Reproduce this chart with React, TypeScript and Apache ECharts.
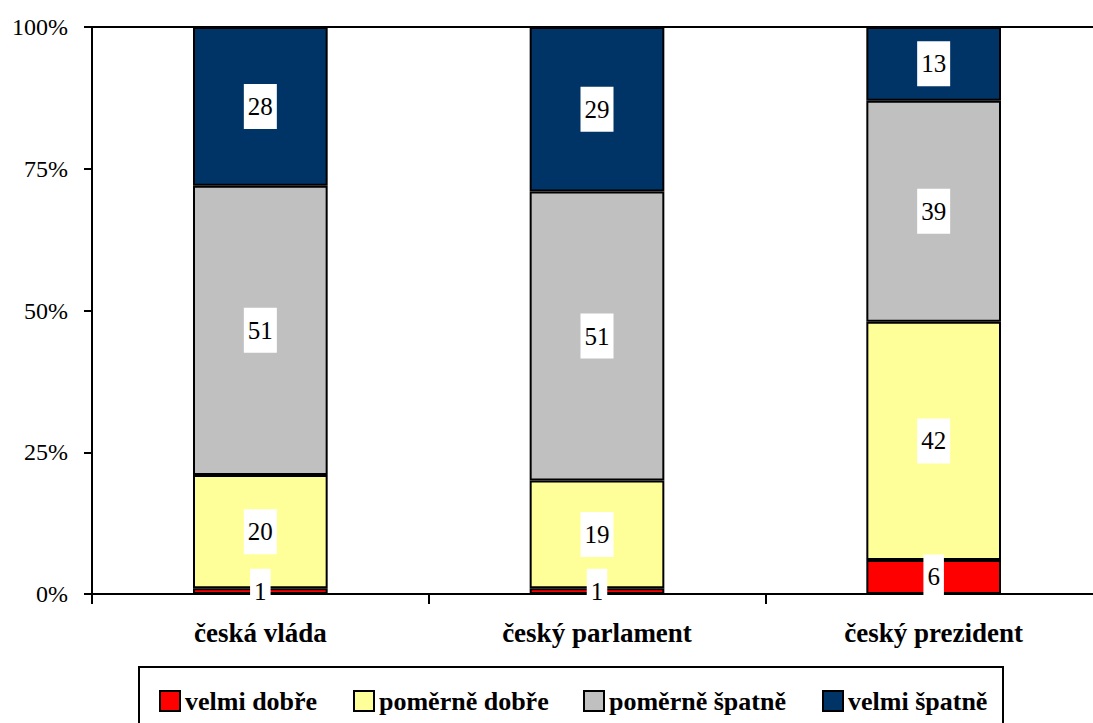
import React, { useEffect, useRef } from "react";
import * as echarts from "echarts";

const categories = ["česká vláda", "český parlament", "český prezident"];
const seriesNames = ["velmi dobře", "poměrně dobře", "poměrně špatně", "velmi špatně"];
const velmiDobre = [1, 1, 6];
const pomerneDobre = [20, 19, 42];
const pomerneSpatne = [51, 51, 39];
const velmiSpatne = [28, 29, 13];
const colors = ["#FF0000", "#FFFF99", "#C0C0C0", "#003366"];
const legendLefts = [159, 353, 583, 822];

const FONT = "Liberation Serif, Times New Roman, serif";

export default function App() {
  const ref = useRef<HTMLDivElement>(null);
  useEffect(() => {
    if (!ref.current) return;
    const chart = echarts.init(ref.current, null, { renderer: "svg" });
    const values = [velmiDobre, pomerneDobre, pomerneSpatne, velmiSpatne];
    const series = seriesNames.map((name, i) => ({
      name,
      type: "bar",
      stack: "total",
      barWidth: "40%",
      data: values[i],
      itemStyle: { color: colors[i], borderColor: "#000", borderWidth: 2 },
      label: {
        show: true,
        position: "inside",
        color: "#000",
        fontFamily: FONT,
        fontSize: 25,
        lineHeight: 25,
        backgroundColor: "#fff",
        padding: [10, 4],
      },
    }));
    chart.setOption({
      animation: false,
      textStyle: { fontFamily: FONT },
      grid: { left: 92, top: 27, width: 1010, height: 567, outerBoundsMode: "none", containLabel: false },
      xAxis: [
        {
          type: "category",
          data: categories,
          position: "bottom",
          axisLine: { show: true, lineStyle: { color: "#000", width: 2 } },
          axisTick: { show: true, length: 10, lineStyle: { color: "#000", width: 2 } },
          axisLabel: {
            color: "#000",
            fontFamily: FONT,
            fontWeight: "bold",
            fontSize: 27,
            margin: 25,
          },
        },
        {
          type: "category",
          data: categories,
          position: "top",
          axisLine: { show: true, lineStyle: { color: "#000", width: 2 } },
          axisTick: { show: false },
          axisLabel: { show: false },
        },
      ],
      yAxis: {
        type: "value",
        min: 0,
        max: 100,
        interval: 25,
        axisLine: { show: true, lineStyle: { color: "#000", width: 2 } },
        axisTick: { show: true, length: 8, lineStyle: { color: "#000", width: 2 } },
        splitLine: { show: false },
        axisLabel: {
          color: "#000",
          fontFamily: FONT,
          fontSize: 24,
          margin: 24,
          formatter: "{value}%",
        },
      },
      legend: seriesNames.map((n, i) => ({
        data: [n],
        left: legendLefts[i],
        top: 688,
        padding: 0,
        itemWidth: 20,
        itemHeight: 20,
        itemGap: 0,
        icon: "rect",
        itemStyle: { borderColor: "#000", borderWidth: 2 },
        textStyle: {
          color: "#000",
          fontFamily: FONT,
          fontWeight: "bold",
          fontSize: 26,
        },
      })),
      graphic: [
        {
          type: "rect",
          shape: { x: 139, y: 667, width: 864, height: 70 },
          style: { fill: "none", stroke: "#000", lineWidth: 2 },
          silent: true,
        },
      ],
      series,
    });
    return () => chart.dispose();
  }, []);
  return (
    <div
      ref={ref}
      style={{ position: "absolute", left: 0, top: 0, width: 1093, height: 723 }}
    />
  );
}
